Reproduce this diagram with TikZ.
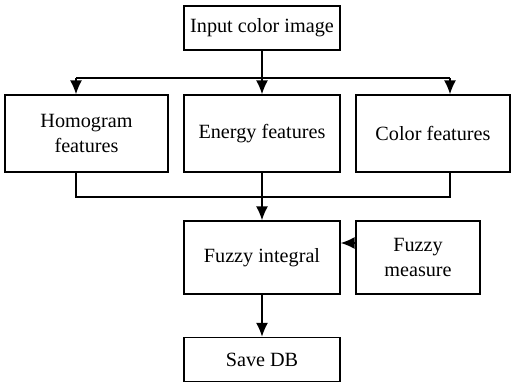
\documentclass[tikz,border=0pt]{standalone}
\usepackage{fontspec}
\setmainfont{Liberation Serif}
\usetikzlibrary{arrows.meta}
\begin{document}
\begin{tikzpicture}[x=0.02cm, y=-0.02cm, thick, >={Latex[length=2.8mm,width=2.4mm]},
    main node/.style={draw, align=center, font=\fontsize{11.5}{14.2}\selectfont, inner sep=2pt},
    small node/.style={main node, minimum width=3.12cm, minimum height=0.88cm},
    big node/.style={main node, minimum width=3.12cm, minimum height=1.54cm}]
\useasboundingbox (0,0) rectangle (511,382);
\node[small node] (1) at (262,28) {Input color image};
\node[big node, minimum width=3.26cm] (2) at (86.5,133.5) {Homogram\\features};
\node[big node] (3) at (262,133.5) {Energy features};
\node[big node, minimum width=3.08cm] (4) at (433,133.5) {Color features};
\node[big node, minimum height=1.46cm] (5) at (262,257.5) {Fuzzy integral};
\node[big node, minimum width=2.48cm, minimum height=1.46cm] (6) at (418,257.5) {Fuzzy\\measure};
\node[small node] (7) at (262,359.5) {Save DB};
% bus lines
\coordinate (split) at (262,78);
\coordinate (a) at (76,78);
\coordinate (c) at (450,78);
\coordinate (m) at (262,197);
\draw (1) -- (split);
\draw (a) -- (c);
\draw[->] (a) -- (a |- 2.north);
\draw[->] (split) -- (3);
\draw[->] (c) -- (c |- 4.north);
\draw (a |- 2.south) |- (m) -| (c |- 4.south);
\draw (3) -- (m);
\draw[->] (m) -- (5);
\draw[->] ([yshift=0.29cm]6.west) -- ([yshift=0.29cm]5.east);
\draw[->] (5) -- (7);
\end{tikzpicture}
\end{document}
